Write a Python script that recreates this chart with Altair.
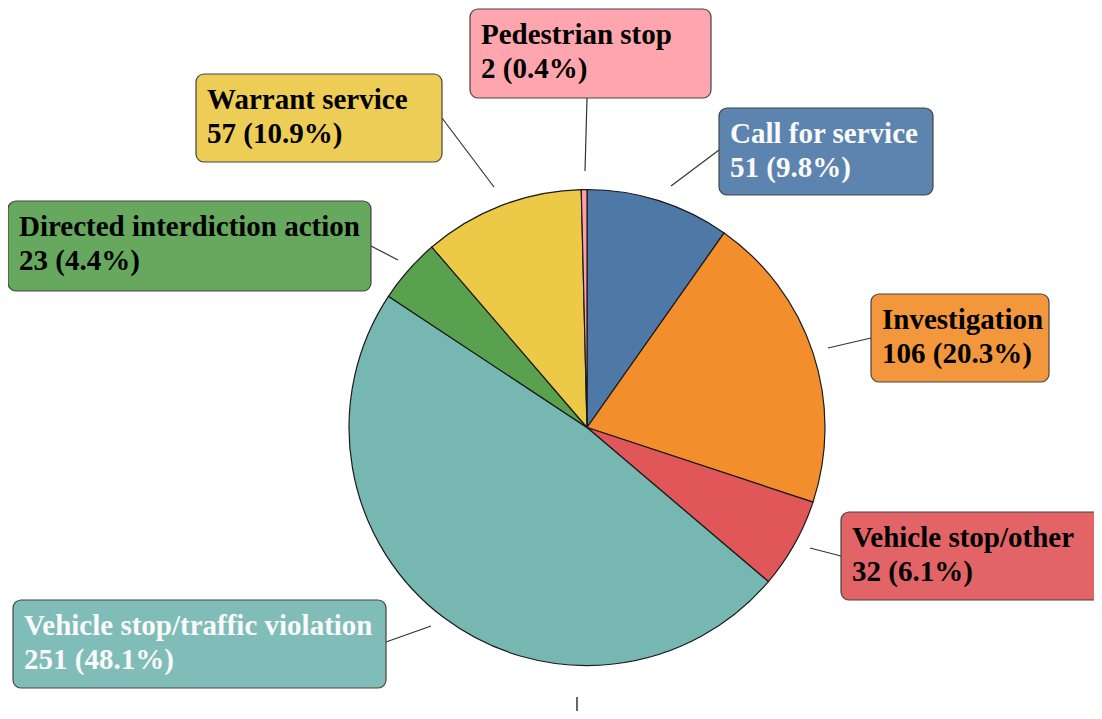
import altair as alt
import pandas as pd

# ---- data ----
categories = ["Call for service", "Investigation", "Vehicle stop/other",
              "Vehicle stop/traffic violation", "Directed interdiction action",
              "Warrant service", "Pedestrian stop"]
counts = [51, 106, 32, 251, 23, 57, 2]

# ---- styles ----
slice_colors = ["#4e79a7", "#f28e2b", "#e15759", "#76b7b2", "#59a14f", "#edc948", "#ff9da7"]
text_colors = ["#fafafa", "black", "black", "#fafafa", "black", "black", "black"]

# ---- layout (page pixel coordinates of label boxes and leader lines) ----
OFF = 8
box_left = [719, 871, 841, 13, 8, 196, 470]
box_top = [108, 294, 512, 600, 201, 74, 9]
box_right = [933, 1049, 1110, 386, 371, 442, 711]
box_bottom = [195, 382, 600, 688, 291, 162, 98]
lead_out_x = [719, 871, 841, 386, 371, 442, 587]
lead_out_y = [150, 338, 556, 642, 246, 118, 98]
lead_in_x = [671, 828, 810, 431, 398, 494, 585]
lead_in_y = [186, 348, 548, 626, 260, 187, 171]
PIE_CX, PIE_CY, PIE_R = 587, 427.5, 238

total = sum(counts)
df = pd.DataFrame({
    "idx": list(range(len(categories))),
    "category": categories,
    "count": counts,
    "slice_color": slice_colors,
    "text_color": text_colors,
})
df["line2"] = [f"{c} ({c / total * 100:.1f}%)" for c in counts]
df["bx0"] = [v - OFF for v in box_left]
df["bx1"] = [v - OFF for v in box_right]
df["by0"] = [v - OFF for v in box_top]
df["by1"] = [v - OFF for v in box_bottom]
df["tx"] = df["bx0"] + 11
df["ty1"] = df["by0"] + 35
df["ty2"] = df["by0"] + 69
df["lx0"] = [v - OFF for v in lead_out_x]
df["ly0"] = [v - OFF for v in lead_out_y]
df["lx1"] = [v - OFF for v in lead_in_x]
df["ly1"] = [v - OFF for v in lead_in_y]

base = alt.Chart(df)

pie = base.mark_arc(radius=PIE_R, stroke="#1a1a1a", strokeWidth=1.2).encode(
    theta=alt.Theta("count:Q", stack=True),
    order=alt.Order("idx:Q"),
    color=alt.Color("slice_color:N", scale=None, legend=None),
    x=alt.value(PIE_CX - OFF),
    y=alt.value(PIE_CY - OFF),
)

leaders = base.mark_rule(color="#333333", strokeWidth=1.2).encode(
    x=alt.X("lx0:Q", scale=None, axis=None),
    y=alt.Y("ly0:Q", scale=None, axis=None),
    x2="lx1:Q",
    y2="ly1:Q",
)

boxes = base.mark_rect(cornerRadius=8, stroke="#444444", strokeWidth=1.2, fillOpacity=0.92).encode(
    x=alt.X("bx0:Q", scale=None, axis=None),
    x2="bx1:Q",
    y=alt.Y("by0:Q", scale=None, axis=None),
    y2="by1:Q",
    fill=alt.Fill("slice_color:N", scale=None, legend=None),
)

text_style = dict(align="left", baseline="alphabetic", font="Liberation Serif",
                  fontWeight="bold", fontSize=29)
text1 = base.mark_text(**text_style).encode(
    x=alt.X("tx:Q", scale=None, axis=None),
    y=alt.Y("ty1:Q", scale=None, axis=None),
    text="category:N",
    color=alt.Color("text_color:N", scale=None, legend=None),
)
text2 = base.mark_text(**text_style).encode(
    x=alt.X("tx:Q", scale=None, axis=None),
    y=alt.Y("ty2:Q", scale=None, axis=None),
    text="line2:N",
    color=alt.Color("text_color:N", scale=None, legend=None),
)

tick = alt.Chart(pd.DataFrame({"x": [577 - OFF], "y0": [697 - OFF], "y1": [716 - OFF]})).mark_rule(
    color="black", strokeWidth=1.2
).encode(
    x=alt.X("x:Q", scale=None, axis=None),
    y=alt.Y("y0:Q", scale=None, axis=None),
    y2="y1:Q",
)

chart = alt.layer(pie, leaders, boxes, text1, text2, tick).properties(
    width=1086, height=703,
    autosize=alt.AutoSizeParams(type="none"),
    padding=0,
).configure_view(stroke=None)

chart.save("out.html", embed_options={"renderer": "svg", "actions": False})
